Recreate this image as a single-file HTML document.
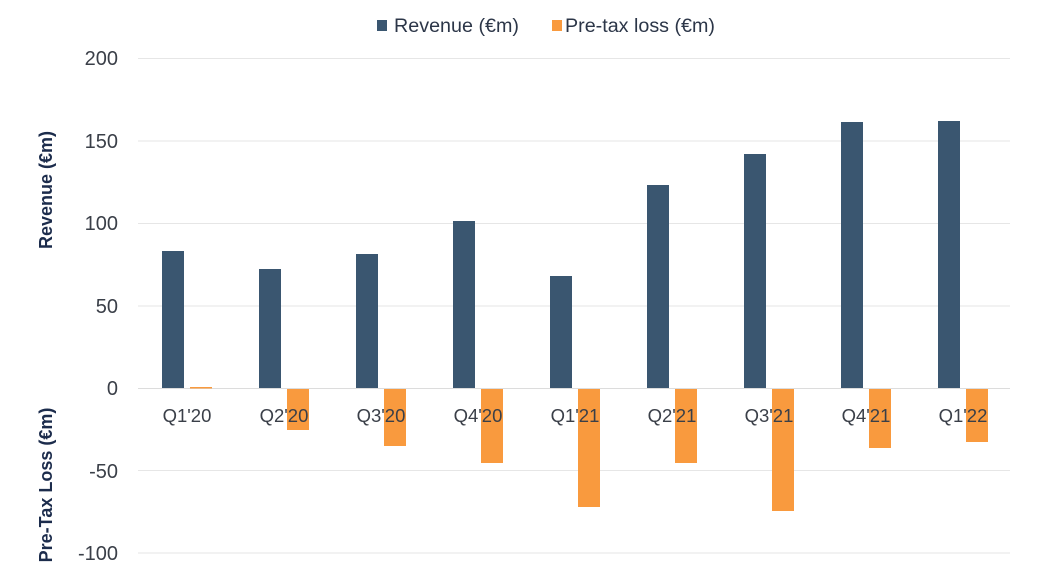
<!DOCTYPE html>
<html><head><style>
html,body{margin:0;padding:0;background:#fff;}
</style></head><body>
<svg width="1045" height="580" xmlns="http://www.w3.org/2000/svg" font-family="Liberation Sans, sans-serif">
<rect width="1045" height="580" fill="#fff"/>
<g stroke="#e6e6e6" stroke-width="1">
<line x1="138" x2="1010" y1="58.5" y2="58.5"/>
<line x1="138" x2="1010" y1="141" y2="141"/>
<line x1="138" x2="1010" y1="223.5" y2="223.5"/>
<line x1="138" x2="1010" y1="306" y2="306"/>
<line x1="138" x2="1010" y1="470.5" y2="470.5"/>
<line x1="138" x2="1010" y1="553" y2="553"/>
</g>
<g fill="#3a3f48" font-size="20" text-anchor="end">
<text x="118" y="65">200</text>
<text x="118" y="148">150</text>
<text x="118" y="230">100</text>
<text x="118" y="313">50</text>
<text x="118" y="395">0</text>
<text x="118" y="478">-50</text>
<text x="118" y="560">-100</text>
</g>
<g fill="#1c2c4c" font-size="18" font-weight="bold">
<text transform="translate(52,190) rotate(-90)" text-anchor="middle">Revenue (€m)</text>
<text transform="translate(52,485) rotate(-90)" text-anchor="middle">Pre-Tax Loss (€m)</text>
</g>
<line x1="138" x2="1010" y1="388.5" y2="388.5" stroke="#dcdcdc" stroke-width="1"/>
<g fill="#3a5670">
<rect x="162" y="251" width="22" height="137"/>
<rect x="259" y="269" width="22" height="119"/>
<rect x="356" y="254" width="22" height="134"/>
<rect x="453" y="221" width="22" height="167"/>
<rect x="550" y="276" width="22" height="112"/>
<rect x="647" y="185" width="22" height="203"/>
<rect x="744" y="154" width="22" height="234"/>
<rect x="841" y="122" width="22" height="266"/>
<rect x="938" y="121" width="22" height="267"/>
</g>
<g fill="#f99a3e">
<rect x="190" y="387" width="22" height="1.5"/>
<rect x="287" y="389" width="22" height="41"/>
<rect x="384" y="389" width="22" height="57"/>
<rect x="481" y="389" width="22" height="74"/>
<rect x="578" y="389" width="22" height="118"/>
<rect x="675" y="389" width="22" height="74"/>
<rect x="772" y="389" width="22" height="122"/>
<rect x="869" y="389" width="22" height="59"/>
<rect x="966" y="389" width="22" height="53"/>
</g>
<g fill="#3a3f48" font-size="18.5" text-anchor="middle">
<text x="187" y="422">Q1'20</text>
<text x="284" y="422">Q2'20</text>
<text x="381" y="422">Q3'20</text>
<text x="478" y="422">Q4'20</text>
<text x="575" y="422">Q1'21</text>
<text x="672" y="422">Q2'21</text>
<text x="769" y="422">Q3'21</text>
<text x="866" y="422">Q4'21</text>
<text x="963" y="422">Q1'22</text>
</g>
<rect x="377" y="20" width="10" height="11" fill="#3a5670"/>
<text x="394" y="32" font-size="19" fill="#2c3648" textLength="125" lengthAdjust="spacingAndGlyphs">Revenue (€m)</text>
<rect x="552" y="20" width="10" height="11" fill="#f99a3e"/>
<text x="565" y="32" font-size="19" fill="#2c3648" textLength="150" lengthAdjust="spacingAndGlyphs">Pre-tax loss (€m)</text>
</svg>
</body></html>
